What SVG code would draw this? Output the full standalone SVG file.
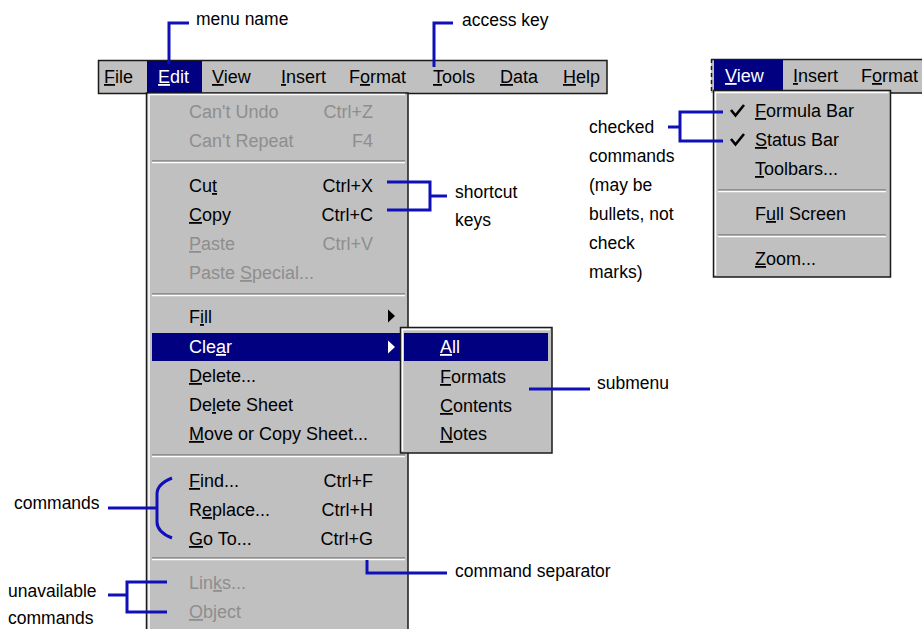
<svg xmlns="http://www.w3.org/2000/svg" width="922" height="629" viewBox="0 0 922 629">
  <style>
    .t { font-family: "Liberation Sans", Arial, sans-serif; font-size: 18px; fill: #000; }
    .dis { fill: #8e8e8e; }
    .hi { fill: #fff; }
    .end { text-anchor: end; }
    .lbl { font-family: "Liberation Sans", Arial, sans-serif; font-size: 17.5px; fill: #000; }
    .u { text-decoration: underline; }
    .panel { fill: #c0c0c0; stroke: #1a1a1a; stroke-width: 1.5; }
    .sel { fill: #000080; }
    .sepd { stroke: #808080; stroke-width: 1.5; }
    .sepl { stroke: #ffffff; stroke-width: 1.5; }
    .lite { stroke: #ffffff; stroke-width: 1.5; fill: none; }
    .call { stroke: #1010b8; stroke-width: 3; fill: none; }
  </style>

  <rect width="922" height="629" fill="#ffffff"/>

  <!-- main menu bar -->
  <g id="menubar">
    <rect class="panel" x="98.5" y="60.5" width="508.5" height="33"/>
    <rect class="sel" x="147" y="61" width="55" height="32"/>
    <text class="t" x="104" y="83"><tspan class="u">F</tspan>ile</text>
    <text class="t hi" x="158" y="83"><tspan class="u">E</tspan>dit</text>
    <text class="t" x="212" y="83"><tspan class="u">V</tspan>iew</text>
    <text class="t" x="281" y="83"><tspan class="u">I</tspan>nsert</text>
    <text class="t" x="349" y="83">F<tspan class="u">o</tspan>rmat</text>
    <text class="t" x="433" y="83"><tspan class="u">T</tspan>ools</text>
    <text class="t" x="500" y="83"><tspan class="u">D</tspan>ata</text>
    <text class="t" x="563" y="83"><tspan class="u">H</tspan>elp</text>
  </g>

  <!-- Edit drop-down -->
  <g id="edit-menu">
    <rect class="panel" x="146.5" y="93" width="261.5" height="560"/>
    <path class="lite" d="M149,640 V94.5 H405"/>
    <text class="t dis" x="189" y="118">Can't Undo</text>
    <text class="t dis end" x="373" y="118">Ctrl+Z</text>
    <text class="t dis" x="189" y="147">Can't Repeat</text>
    <text class="t dis end" x="373" y="147">F4</text>
    <line class="sepd" x1="152" y1="161" x2="405" y2="161"/>
    <line class="sepl" x1="152" y1="162.5" x2="405" y2="162.5"/>
    <text class="t" x="189" y="192">Cu<tspan class="u">t</tspan></text>
    <text class="t end" x="373" y="192">Ctrl+X</text>
    <text class="t" x="189" y="221"><tspan class="u">C</tspan>opy</text>
    <text class="t end" x="373" y="221">Ctrl+C</text>
    <text class="t dis" x="189" y="250"><tspan class="u">P</tspan>aste</text>
    <text class="t dis end" x="373" y="250">Ctrl+V</text>
    <text class="t dis" x="189" y="279">Paste <tspan class="u">S</tspan>pecial...</text>
    <line class="sepd" x1="152" y1="294" x2="405" y2="294"/>
    <line class="sepl" x1="152" y1="295.5" x2="405" y2="295.5"/>
    <text class="t" x="189" y="323">F<tspan class="u">i</tspan>ll</text>
    <path d="M388,309.5 L395,316 L388,322.5 Z" fill="#000"/>
    <rect class="sel" x="152" y="333" width="252" height="28"/>
    <text class="t hi" x="189" y="353">Cle<tspan class="u">a</tspan>r</text>
    <path d="M388,340.5 L395,347 L388,353.5 Z" fill="#fff"/>
    <text class="t" x="189" y="382"><tspan class="u">D</tspan>elete...</text>
    <text class="t" x="189" y="411">De<tspan class="u">l</tspan>ete Sheet</text>
    <text class="t" x="189" y="440"><tspan class="u">M</tspan>ove or Copy Sheet...</text>
    <line class="sepd" x1="152" y1="455" x2="405" y2="455"/>
    <line class="sepl" x1="152" y1="456.5" x2="405" y2="456.5"/>
    <text class="t" x="189" y="487"><tspan class="u">F</tspan>ind...</text>
    <text class="t end" x="373" y="487">Ctrl+F</text>
    <text class="t" x="189" y="516">R<tspan class="u">e</tspan>place...</text>
    <text class="t end" x="373" y="516">Ctrl+H</text>
    <text class="t" x="189" y="545"><tspan class="u">G</tspan>o To...</text>
    <text class="t end" x="373" y="545">Ctrl+G</text>
    <line class="sepd" x1="152" y1="558" x2="405" y2="558"/>
    <line class="sepl" x1="152" y1="559.5" x2="405" y2="559.5"/>
    <text class="t dis" x="189" y="589">Lin<tspan class="u">k</tspan>s...</text>
    <text class="t dis" x="189" y="618"><tspan class="u">O</tspan>bject</text>
  </g>

  <!-- Clear submenu -->
  <g id="clear-submenu">
    <rect class="panel" x="400.5" y="327.5" width="151.5" height="125.5"/>
    <path class="lite" d="M402.5,451 V329.5 H550"/>
    <rect class="sel" x="404" y="333" width="144" height="28"/>
    <text class="t hi" x="440" y="353"><tspan class="u">A</tspan>ll</text>
    <text class="t" x="440" y="383"><tspan class="u">F</tspan>ormats</text>
    <text class="t" x="440" y="412"><tspan class="u">C</tspan>ontents</text>
    <text class="t" x="440" y="440"><tspan class="u">N</tspan>otes</text>
  </g>

  <!-- View menu bar (partial) -->
  <g id="view-bar">
    <rect x="711" y="59" width="211" height="34" fill="#c0c0c0"/>
    <line x1="711" y1="59.5" x2="922" y2="59.5" stroke="#1a1a1a" stroke-width="1.5"/>
    <line x1="891" y1="93" x2="922" y2="93" stroke="#1a1a1a" stroke-width="1.5"/>
    <line x1="711.5" y1="59" x2="711.5" y2="93" stroke="#1a1a1a" stroke-width="1.5" stroke-dasharray="4 3"/>
    <rect class="sel" x="714" y="60" width="69" height="30"/>
    <text class="t hi" x="725" y="82"><tspan class="u">V</tspan>iew</text>
    <text class="t" x="793" y="82"><tspan class="u">I</tspan>nsert</text>
    <text class="t" x="861" y="82">F<tspan class="u">o</tspan>rmat</text>
  </g>

  <!-- View drop-down -->
  <g id="view-menu">
    <rect class="panel" x="713.5" y="90.5" width="177" height="186.5"/>
    <path class="lite" d="M715.5,275 V92.5 H888.5"/>
    <path d="M731,110 L735.5,115.5 L744,105" stroke="#000" stroke-width="2.6" fill="none"/>
    <text class="t" x="755" y="117"><tspan class="u">F</tspan>ormula Bar</text>
    <path d="M731,139 L735.5,144.5 L744,134" stroke="#000" stroke-width="2.6" fill="none"/>
    <text class="t" x="755" y="146"><tspan class="u">S</tspan>tatus Bar</text>
    <text class="t" x="755" y="175"><tspan class="u">T</tspan>oolbars...</text>
    <line class="sepd" x1="718" y1="190" x2="886" y2="190"/>
    <line class="sepl" x1="718" y1="191.5" x2="886" y2="191.5"/>
    <text class="t" x="755" y="220">F<tspan class="u">u</tspan>ll Screen</text>
    <line class="sepd" x1="718" y1="235" x2="886" y2="235"/>
    <line class="sepl" x1="718" y1="236.5" x2="886" y2="236.5"/>
    <text class="t" x="755" y="265"><tspan class="u">Z</tspan>oom...</text>
  </g>

  <!-- callout connectors -->
  <g id="connectors">
    <path class="call" d="M169,64 V23 H189"/>
    <path class="call" d="M434,67 V23 H453"/>
    <path class="call" d="M387,182 H430 V210 H387 M430,196 H447"/>
    <path class="call" d="M723,112 H680 V141 H723 M668,127 H680"/>
    <path class="call" d="M529,389 H590"/>
    <path class="call" d="M172,478 Q157,484 157,494 V522 Q157,532 172,538 M108,508 H157"/>
    <path class="call" d="M108,595 H127 M167,582 H127 V612 H167"/>
    <path class="call" d="M367,560 V573 H447"/>
  </g>

  <!-- callout labels -->
  <g id="labels">
    <text class="lbl" x="196" y="25">menu name</text>
    <text class="lbl" x="462" y="26">access key</text>
    <text class="lbl" x="455" y="198">shortcut</text>
    <text class="lbl" x="455" y="226">keys</text>
    <text class="lbl" x="589" y="133">checked</text>
    <text class="lbl" x="589" y="162">commands</text>
    <text class="lbl" x="589" y="191">(may be</text>
    <text class="lbl" x="589" y="220">bullets, not</text>
    <text class="lbl" x="589" y="249">check</text>
    <text class="lbl" x="589" y="278">marks)</text>
    <text class="lbl" x="597" y="389">submenu</text>
    <text class="lbl" x="14" y="509">commands</text>
    <text class="lbl" x="8" y="597">unavailable</text>
    <text class="lbl" x="8" y="624">commands</text>
  </g>
  <g id="separator-label">
    <text class="lbl" x="455" y="577">command separator</text>
  </g>
</svg>
